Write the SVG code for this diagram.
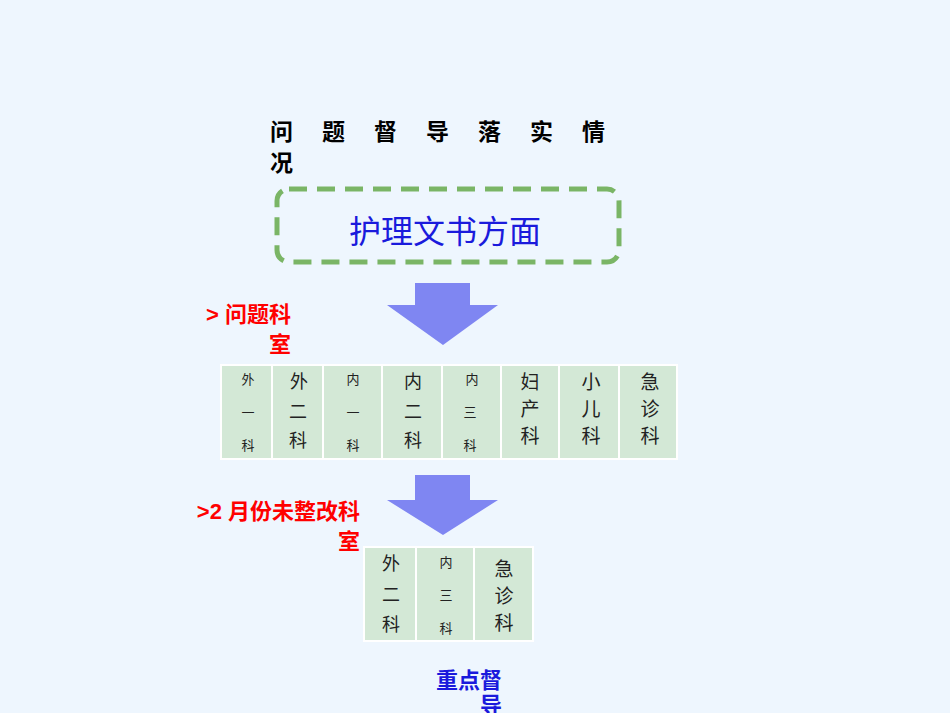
<svg xmlns="http://www.w3.org/2000/svg" width="950" height="713" viewBox="0 0 950 713">
<style>
.c{fill:#d3e8d6;stroke:#ffffff;stroke-width:2}
.t{font-family:"Noto Sans CJK SC",sans-serif;fill:#222;text-anchor:middle}
.s{font-size:13px}.b{font-size:19px}.m{font-size:18px}
.arr{fill:#7f86f2}
.red{font-family:"Liberation Sans","Noto Sans CJK SC",sans-serif;font-weight:bold;fill:#ff0000;font-size:22px;text-anchor:end}
</style>
<rect width="950" height="713" fill="#eef6fe"/>
<g id="title"><text x="270" y="140" font-family="Noto Sans CJK SC,sans-serif" font-weight="bold" font-size="23" letter-spacing="29">问题督导落实情</text>
<text x="270" y="171" font-family="Noto Sans CJK SC,sans-serif" font-weight="bold" font-size="23">况</text></g>
<g id="box"><rect x="277" y="189" width="342" height="73" rx="12" fill="none" stroke="#7ab566" stroke-width="5" stroke-dasharray="18,10"/>
<text x="445" y="243" text-anchor="middle" font-family="Noto Sans CJK SC,sans-serif" font-size="32" fill="#1a1adc">护理文书方面</text></g>
<g id="connectors">
<polygon class="arr" points="415,283 470,283 470,305 498,305 443,345 387,305 415,305"/>
<polygon class="arr" points="415,475 470,475 470,500 498,500 443,535 387,500 415,500"/>
</g>
<g id="label1"><text class="red" x="291" y="322">&gt; 问题科</text><text class="red" x="291" y="352">室</text></g>
<g id="table1">
<rect class="c" x="221" y="365" width="51" height="94"/><rect class="c" x="272" y="365" width="51" height="94"/>
<rect class="c" x="323" y="365" width="59" height="94"/><rect class="c" x="382" y="365" width="60" height="94"/>
<rect class="c" x="442" y="365" width="59" height="94"/><rect class="c" x="501" y="365" width="58" height="94"/>
<rect class="c" x="559" y="365" width="60" height="94"/><rect class="c" x="619" y="365" width="58" height="94"/>
<text class="t s" x="248" y="384">外</text><text class="t s" x="248" y="417">一</text><text class="t s" x="248" y="450">科</text>
<text class="t m" x="299" y="388">外</text><text class="t m" x="298" y="418">二</text><text class="t m" x="298" y="447">科</text>
<text class="t s" x="353" y="384">内</text><text class="t s" x="353" y="417">一</text><text class="t s" x="353" y="450">科</text>
<text class="t m" x="413" y="388">内</text><text class="t m" x="413" y="418">二</text><text class="t m" x="413" y="447">科</text>
<text class="t s" x="472" y="384">内</text><text class="t s" x="470" y="417">三</text><text class="t s" x="470" y="450">科</text>
<text class="t b" x="530" y="389">妇</text><text class="t b" x="530" y="416">产</text><text class="t b" x="530" y="443">科</text>
<text class="t b" x="591" y="389">小</text><text class="t b" x="591" y="416">儿</text><text class="t b" x="591" y="443">科</text>
<text class="t b" x="650" y="389">急</text><text class="t b" x="650" y="416">诊</text><text class="t b" x="650" y="443">科</text>
</g>
<g id="label2"><text class="red" x="360" y="519">&gt;2 月份未整改科</text><text class="red" x="360" y="549">室</text></g>
<g id="table2">
<rect class="c" x="364" y="547" width="52" height="94"/><rect class="c" x="416" y="547" width="58" height="94"/><rect class="c" x="474" y="547" width="59" height="94"/>
<text class="t m" x="391" y="570">外</text><text class="t m" x="391" y="601">二</text><text class="t m" x="391" y="631">科</text>
<text class="t s" x="446" y="567">内</text><text class="t s" x="446" y="600">三</text><text class="t s" x="446" y="633">科</text>
<text class="t b" x="504" y="576">急</text><text class="t b" x="504" y="603">诊</text><text class="t b" x="504" y="630">科</text>
</g>
<g id="label3"><text x="502" y="688" text-anchor="end" font-family="Noto Sans CJK SC,sans-serif" font-weight="bold" font-size="22" fill="#1a1adc">重点督</text>
<text x="502" y="713" text-anchor="end" font-family="Noto Sans CJK SC,sans-serif" font-weight="bold" font-size="22" fill="#1a1adc">导</text></g>
</svg>
